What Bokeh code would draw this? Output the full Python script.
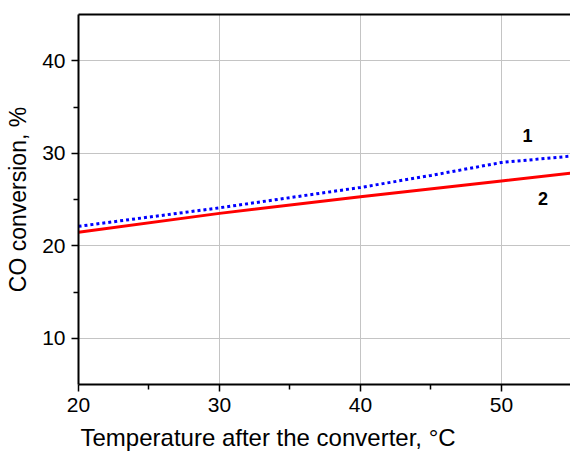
from bokeh.plotting import figure
from bokeh.models import FixedTicker, LinearAxis, Title, Range1d, ColumnDataSource
from bokeh.core.properties import value
from bokeh.embed import file_html
from bokeh.resources import INLINE

# Data
temp_1 = [20, 30, 40, 45, 50, 55]
conv_1 = [22.1, 24.1, 26.3, 27.6, 29.0, 29.7]
temp_2 = [20, 30, 40, 50, 55]
conv_2 = [21.45, 23.5, 25.3, 27.0, 27.85]
x_ticks = [20, 30, 40, 50]
x_minor = [25, 35, 45, 55]
y_ticks = [10, 20, 30, 40]
y_minor = [15, 25, 35]
label_text = ["1", "2"]
label_x = [51.85, 52.95]
label_y = [31.95, 25.15]
x_title = "Temperature after the converter, \u00b0C"
y_title = "CO conversion, %"

FONT = "Liberation Sans"

p = figure(width=570, height=457, output_backend="svg", toolbar_location=None,
           x_range=Range1d(20, 54.9), y_range=Range1d(5, 45),
           min_border_left=78, min_border_right=0, min_border_top=14, min_border_bottom=72)
p.background_fill_color = "white"
p.border_fill_color = "white"
p.outline_line_color = None

p.line(temp_1, conv_1, line_color="#0000ff", line_width=3, line_dash="3 3")
p.line(temp_2, conv_2, line_color="#ff0000", line_width=3)

src = ColumnDataSource(dict(x=label_x, y=label_y, t=label_text))
p.text(x="x", y="y", text="t", source=src, text_font=value(FONT), text_font_style="bold",
       text_font_size="18px", text_align="center", text_baseline="middle", text_color="black")

for ax in (p.xaxis[0], p.yaxis[0]):
    ax.axis_line_color = "black"
    ax.axis_line_width = 2
    ax.major_tick_line_color = "black"
    ax.major_tick_line_width = 1.5
    ax.minor_tick_line_color = "black"
    ax.minor_tick_line_width = 1.5
    ax.major_tick_out = 7
    ax.major_tick_in = 0
    ax.minor_tick_out = 5
    ax.minor_tick_in = 0
    ax.major_label_text_font = FONT
    ax.major_label_text_font_size = "21px"
    ax.major_label_text_color = "black"
    ax.major_label_standoff = 6
    ax.axis_label_text_font = FONT
    ax.axis_label_text_font_size = "23px"
    ax.axis_label_text_font_style = "normal"
    ax.axis_label_text_color = "black"

p.xaxis.ticker = FixedTicker(ticks=x_ticks, minor_ticks=x_minor)
p.yaxis.ticker = FixedTicker(ticks=y_ticks, minor_ticks=y_minor)
p.yaxis.axis_label = y_title
p.yaxis.axis_label_standoff = 8

p.xgrid.ticker = FixedTicker(ticks=x_ticks)
p.ygrid.ticker = FixedTicker(ticks=y_ticks)
p.grid.grid_line_color = "#c4c4c4"
p.grid.grid_line_width = 1

top = LinearAxis(major_tick_line_color=None, minor_tick_line_color=None,
                 major_label_text_font_size="0px", major_label_standoff=0,
                 major_tick_out=0, major_tick_in=0, minor_tick_out=0, minor_tick_in=0,
                 axis_line_color="black", axis_line_width=2)
top.ticker = FixedTicker(ticks=[])
p.add_layout(top, "above")

xt = Title(text=x_title, align="left", offset=2,
           text_font=FONT, text_font_size="24px", text_font_style="normal",
           text_color="black", standoff=14)
p.add_layout(xt, "below")

open("out.html", "w").write(file_html(p, INLINE))
